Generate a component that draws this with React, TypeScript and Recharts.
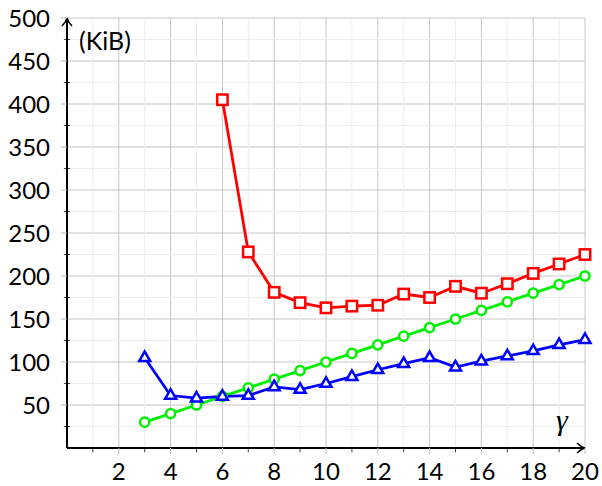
import { CartesianGrid, Line, LineChart, ReferenceLine, XAxis, YAxis } from "recharts";

const xValues = [3, 4, 5, 6, 7, 8, 9, 10, 11, 12, 13, 14, 15, 16, 17, 18, 19, 20];
const redSeries = [null, null, null, 405, 228, 181, 169, 163, 165, 166, 179, 175, 188, 180, 191, 203, 214, 225];
const greenSeries = [30, 40, 50, 60, 70, 80, 90, 100, 110, 120, 130, 140, 150, 160, 170, 180, 190, 200];
const blueSeries = [105, 61, 58, 60, 61, 71, 68, 75, 83, 91, 98, 105, 94, 101, 107, 113, 120, 126];

const xTicks = [2, 4, 6, 8, 10, 12, 14, 16, 18, 20];
const yTicks = [50, 100, 150, 200, 250, 300, 350, 400, 450, 500];
const xMinor = [1, 3, 5, 7, 9, 11, 13, 15, 17, 19];
const yMinor = [25, 75, 125, 175, 225, 275, 325, 375, 425, 475];

const data = xValues.map((x, i) => ({
  x,
  red: redSeries[i],
  green: greenSeries[i],
  blue: blueSeries[i]
}));

const FONT = "Lato, 'Open Sans', sans-serif";
const tickStyle = { fontSize: 24, fill: "#000", fontFamily: FONT };

function SquareDot(props: any) {
  const { cx, cy, index, value } = props;
  if (value == null || cy == null) return <g key={index} />;
  return <rect key={index} x={cx - 5.2} y={cy - 5.2} width={10.4} height={10.4} fill="#fff" stroke="#ff0000" strokeWidth={2.5} />;
}

function CircleDot(props: any) {
  const { cx, cy, index } = props;
  return <circle key={index} cx={cx} cy={cy} r={4.6} fill="#fff" stroke="#00f000" strokeWidth={2.5} />;
}

function TriangleDot(props: any) {
  const { cx, cy, index } = props;
  const pts = `${cx},${cy - 6.2} ${cx - 5.5},${cy + 3.3} ${cx + 5.5},${cy + 3.3}`;
  return <polygon key={index} points={pts} fill="#fff" stroke="#0000ff" strokeWidth={2.5} />;
}

export default function App() {
  return (
    <div style={{ position: "absolute", left: 0, top: 0, width: 602, height: 486, background: "#fff" }}>
      <svg width={0} height={0} style={{ position: "absolute" }}>
        <defs>
          <marker
            id="axisArrow"
            viewBox="-8 -6 10 12"
            refX={1}
            refY={0}
            markerWidth={10}
            markerHeight={12}
            markerUnits="userSpaceOnUse"
            orient="auto-start-reverse"
          >
            <path d="M -7 -5 Q -3 -1 1 0 Q -3 1 -7 5" fill="none" stroke="#000" strokeWidth={1.6} />
          </marker>
        </defs>
      </svg>
      <LineChart width={602} height={486} data={data} margin={{ top: 18, right: 17, left: 0, bottom: 0 }}>
        <CartesianGrid stroke="#c6c6c6" strokeWidth={1} />
        {xMinor.map((v) => (
          <ReferenceLine key={`gx${v}`} x={v} stroke="#ededed" strokeWidth={1} />
        ))}
        {yMinor.map((v) => (
          <ReferenceLine key={`gy${v}`} y={v} stroke="#ededed" strokeWidth={1} />
        ))}
        {xMinor.map((v) => (
          <ReferenceLine key={`tx${v}`} segment={[{ x: v, y: 0 }, { x: v, y: -5 }]} stroke="#444" strokeWidth={1} ifOverflow="visible" />
        ))}
        {yMinor.map((v) => (
          <ReferenceLine key={`ty${v}`} segment={[{ x: -0.12, y: v }, { x: 0.12, y: v }]} stroke="#444" strokeWidth={1} ifOverflow="visible" />
        ))}
        <XAxis
          dataKey="x"
          type="number"
          domain={[0, 20]}
          ticks={xTicks}
          height={38}
          tick={tickStyle}
          tickSize={6}
          tickMargin={9}
          tickLine={{ stroke: "#bbbbbb" }}
          axisLine={{ stroke: "#000", strokeWidth: 2, markerEnd: "url(#axisArrow)" }}
          interval={0}
        />
        <YAxis
          type="number"
          domain={[0, 500]}
          ticks={yTicks}
          width={67}
          tick={tickStyle}
          tickSize={6}
          tickMargin={11}
          tickLine={{ stroke: "#bbbbbb" }}
          axisLine={{ stroke: "#000", strokeWidth: 2, markerStart: "url(#axisArrow)" }}
          interval={0}
        />
        <Line dataKey="green" stroke="#00f000" strokeWidth={2.8} dot={CircleDot} isAnimationActive={false} />
        <Line dataKey="blue" stroke="#0000ff" strokeWidth={2.8} dot={TriangleDot} isAnimationActive={false} />
        <Line dataKey="red" stroke="#ff0000" strokeWidth={2.8} dot={SquareDot} isAnimationActive={false} />
      </LineChart>
      <div style={{ position: "absolute", left: 79, top: 25, fontFamily: FONT, fontSize: 25, lineHeight: "30px", color: "#000" }}>
        (KiB)
      </div>
      <div style={{ position: "absolute", left: 556, top: 404, fontFamily: "'Liberation Serif', serif", fontStyle: "italic", fontSize: 30, lineHeight: "32px", color: "#000" }}>
        γ
      </div>
    </div>
  );
}
